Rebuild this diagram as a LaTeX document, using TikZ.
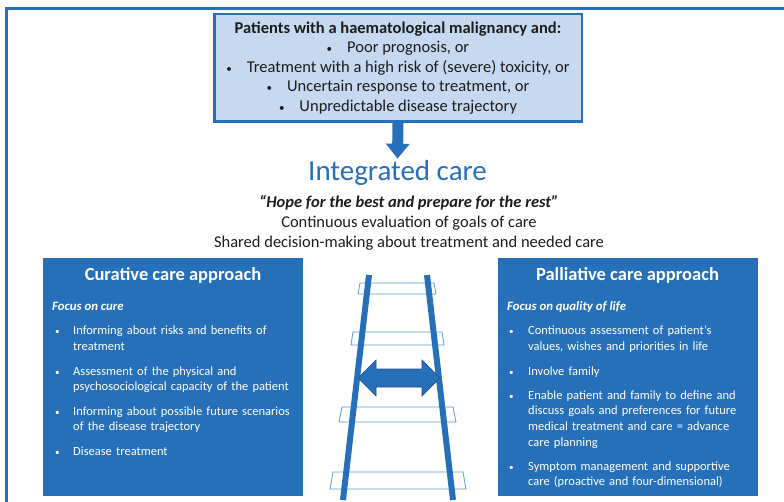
\documentclass[tikz,border=0pt]{standalone}
\usepackage{fontspec}
\setmainfont{Carlito}
\usetikzlibrary{arrows.meta}
\definecolor{careblue}{RGB}{38,112,186}
\definecolor{darkblue}{RGB}{30,78,140}
\definecolor{lightblue}{RGB}{198,217,240}
\definecolor{rungblue}{RGB}{91,155,213}
\definecolor{textgrey}{RGB}{28,28,28}
\newcommand{\smalldot}{{\fontsize{11}{12}\selectfont\textbullet}}

\begin{document}
\begin{tikzpicture}[x=1pt,y=-1pt]
	\useasboundingbox (0,0) rectangle (784,502);
	
	\tikzstyle{approach}=[fill=careblue, minimum width=260pt, minimum height=238pt, inner sep=0pt]
	\tikzstyle{headtext}=[text=white, font=\fontsize{18.5}{22}\selectfont\bfseries, anchor=base, inner sep=0pt]
	\tikzstyle{focus}=[text=white, font=\fontsize{12.8}{15.7}\selectfont\bfseries\itshape, anchor=base west, inner sep=0pt]
	\tikzstyle{bulletdot}=[text=white, font=\fontsize{9}{15.7}\selectfont, anchor=base west, inner sep=0pt]
	\tikzstyle{bullettext}=[text=white, font=\fontsize{12.5}{15.7}\selectfont, anchor=base west, inner sep=0pt, text width=250pt, align=left]
	\tikzstyle{midtext}=[text=textgrey, font=\fontsize{16.5}{19.5}\selectfont, anchor=base, inner sep=0pt]
	\tikzstyle{rail}=[careblue, line width=6pt]
	\tikzstyle{rung}=[rungblue, line width=0.8pt, fill=white]
	
	% frame
	\draw[careblue, line width=2.7pt] (6.7,502) -- (6.7,8.7) -- (784,8.7);
	
	\node[draw=careblue, line width=2.5pt, fill=lightblue, minimum width=367.5pt, minimum height=107.5pt, inner sep=0pt, align=center, text=textgrey, font=\fontsize{16.5}{19.5}\selectfont](topbox) at (398,68){\textbf{Patients with a haematological malignancy and:}\\
		\smalldot\hspace{15pt}Poor prognosis, or\\
		\smalldot\hspace{15pt}Treatment with a high risk of (severe) toxicity, or\\
		\smalldot\hspace{15pt}Uncertain response to treatment, or\\
		\smalldot\hspace{15pt}Unpredictable disease trajectory};
	
	\node[text=careblue, font=\fontsize{29}{33}\selectfont, anchor=base, inner sep=2pt](intcare) at (397.5,181){Integrated care};
	\draw[careblue, line width=11pt, -{Triangle[width=23pt,length=15pt]}] (topbox.south) -- (intcare.north);
	
	\node[midtext](quote) at (409,208){\textbf{\textit{“Hope for the best and prepare for the rest”}}};
	\node[midtext](goals) at (409,228){Continuous evaluation of goals of care};
	\node[midtext](shared) at (409,248){Shared decision-making about treatment and needed care};
	
	% curative side
	\node[approach](curbox) at (173,377){};
	\node[headtext](curhead) at (173,281){Curative care approach};
	\node[focus](curfocus) at (52,311){Focus on cure};
	\node[bulletdot](cd1) at (55,335){\textbullet};
	\node[bullettext](ct1) at (73,335){Informing about risks and benefits of\\treatment};
	\node[bulletdot](cd2) at (55,375){\textbullet};
	\node[bullettext](ct2) at (73,375){Assessment of the physical and\\psychosociological capacity of the patient};
	\node[bulletdot](cd3) at (55,415){\textbullet};
	\node[bullettext](ct3) at (73,415){Informing about possible future scenarios\\of the disease trajectory};
	\node[bulletdot](cd4) at (55,455){\textbullet};
	\node[bullettext](ct4) at (73,455){Disease treatment};
	
	% palliative side
	\node[approach](palbox) at (627.5,377){};
	\node[headtext](palhead) at (627.5,281){Palliative care approach};
	\node[focus](palfocus) at (507,311){Focus on quality of life};
	\node[bulletdot](pd1) at (509,335){\textbullet};
	\node[bullettext](pt1) at (528,335){Continuous assessment of patient’s\\values, wishes and priorities in life};
	\node[bulletdot](pd2) at (509,375){\textbullet};
	\node[bullettext](pt2) at (528,375){Involve family};
	\node[bulletdot](pd3) at (509,399){\textbullet};
	\node[bullettext](pt3) at (528,399){Enable patient and family to define and\\discuss goals and preferences for future\\medical treatment and care = advance\\care planning};
	\node[bulletdot](pd4) at (509,470){\textbullet};
	\node[bullettext](pt4) at (528,470){Symptom management and supportive\\care (proactive and four-dimensional)};
	
	% ladder
	\draw[rung] (360,283) -- (434,283) -- (436,294) -- (358,294) -- cycle;
	\draw[rung] (353,332) -- (442,332) -- (444,345) -- (351,345) -- cycle;
	\draw[rung] (342,407) -- (453,407) -- (456,422) -- (339,422) -- cycle;
	\draw[rung] (333,472) -- (463,472) -- (466,489) -- (330,489) -- cycle;
	
	\draw[rail] (369,275) -- (343,500);
	\draw[rail] (427,275) -- (453,500);
	
	% two-way arrow between the rails
	\filldraw[fill=careblue, draw=darkblue, line width=0.6pt] (358,378) -- (376,360) -- (376,369) -- (422,369) -- (422,360) -- (440,378) -- (422,396) -- (422,387) -- (376,387) -- (376,396) -- cycle;
	
\end{tikzpicture}
\end{document}
